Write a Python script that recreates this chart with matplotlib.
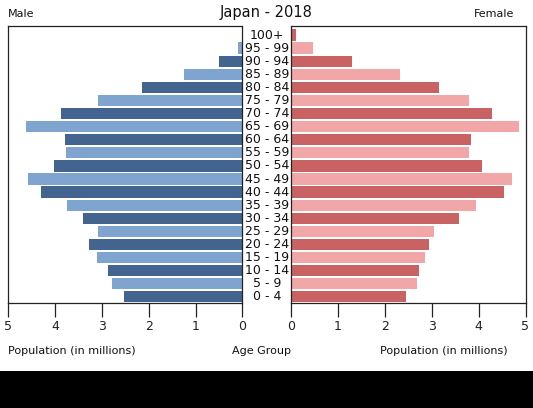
import matplotlib
matplotlib.use("Agg")
import matplotlib.pyplot as plt
import matplotlib.transforms as mtransforms
from matplotlib.patches import Rectangle

age_groups = ["0 - 4", "5 - 9", "10 - 14", "15 - 19", "20 - 24", "25 - 29", "30 - 34",
              "35 - 39", "40 - 44", "45 - 49", "50 - 54", "55 - 59", "60 - 64", "65 - 69",
              "70 - 74", "75 - 79", "80 - 84", "85 - 89", "90 - 94", "95 - 99", "100+"]
male = [2.53, 2.79, 2.86, 3.10, 3.28, 3.08, 3.41, 3.74, 4.30, 4.58, 4.02,
        3.76, 3.79, 4.62, 3.86, 3.09, 2.14, 1.25, 0.50, 0.10, 0.01]
female = [2.45, 2.68, 2.73, 2.85, 2.95, 3.05, 3.58, 3.95, 4.55, 4.72, 4.08,
          3.79, 3.84, 4.87, 4.29, 3.79, 3.15, 2.32, 1.31, 0.46, 0.10]
ticks = [0, 1, 2, 3, 4, 5]

male_colors = ["#43648e", "#7fa4d0"]
female_colors = ["#c96363", "#f1a7a8"]

W, H = 533, 408
fig = plt.figure(figsize=(W / 100, H / 100), dpi=100)

top, bottom = 26, 303
ax_h = (bottom - top) / H
ax_y = (H - bottom) / H
axL = fig.add_axes([8 / W, ax_y, (242.5 - 8) / W, ax_h])
axR = fig.add_axes([291 / W, ax_y, (525.5 - 291) / W, ax_h])

ypos = list(range(len(age_groups)))
cm = [male_colors[i % 2] for i in ypos]
cf = [female_colors[i % 2] for i in ypos]
axL.barh(ypos, male, height=0.86, color=cm)
axR.barh(ypos, female, height=0.86, color=cf)

for ax in (axL, axR):
    ax.set_ylim(-0.47, 20.69)
    ax.set_yticks([])
    ax.set_xticks(ticks)
    ax.set_xticklabels([str(t) for t in ticks], fontsize=9, color="#222222")
    ax.tick_params(axis="x", length=10, width=0.9, pad=2, colors="#222222")
    for s in ax.spines.values():
        s.set_linewidth(0.9)
        s.set_color("#222222")
axL.set_xlim(5, 0)
axR.set_xlim(0, 5)

trans = mtransforms.blended_transform_factory(fig.transFigure, axL.transData)
for i, lab in enumerate(age_groups):
    fig.text(267 / W, i, lab, transform=trans, ha="center", va="center",
             fontsize=9, color="#111111")

fig.text(266 / W, 1 - 13 / H, "Japan - 2018", ha="center", va="center", fontsize=10.5, color="#111111")
fig.text(8 / W, 1 - 14 / H, "Male", ha="left", va="center", fontsize=8, color="#111111")
fig.text(514 / W, 1 - 14 / H, "Female", ha="right", va="center", fontsize=8, color="#111111")

fig.text(8 / W, 1 - 351 / H, "Population (in millions)", ha="left", va="center", fontsize=8, color="#111111")
fig.text(262 / W, 1 - 351 / H, "Age Group", ha="center", va="center", fontsize=8, color="#111111")
fig.text(508 / W, 1 - 351 / H, "Population (in millions)", ha="right", va="center", fontsize=8, color="#111111")

fig.patches.append(Rectangle((0, 0), 1, 37 / H, transform=fig.transFigure,
                             facecolor="black", edgecolor="none", zorder=-1))

fig.savefig("out.png", dpi=100)
